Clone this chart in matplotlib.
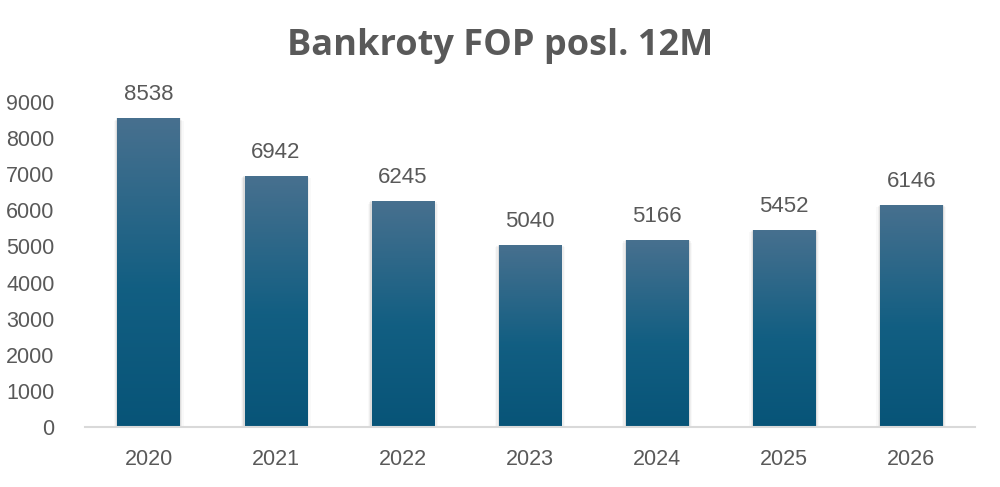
import numpy as np
import matplotlib
matplotlib.use("Agg")
import matplotlib.pyplot as plt
from matplotlib.patches import Rectangle
from matplotlib.colors import LinearSegmentedColormap

years = ["2020", "2021", "2022", "2023", "2024", "2025", "2026"]
values = [8538, 6942, 6245, 5040, 5166, 5452, 6146]
yticks = [0, 1000, 2000, 3000, 4000, 5000, 6000, 7000, 8000, 9000]

grey = "#595959"
top_col = (0.28, 0.44, 0.56)
bot_col = (0.03, 0.33, 0.47)
cmap = LinearSegmentedColormap.from_list("bar", [(0.0, bot_col), (0.45, (0.07, 0.37, 0.51)), (1.0, top_col)])

plt.rcParams['font.family'] = ['Liberation Sans', 'DejaVu Sans']

fig = plt.figure(figsize=(10, 4.87), dpi=100)
ax = fig.add_axes([0.085, 0.123, 0.89, 0.668])

width = 0.49
grad = np.linspace(0, 1, 256).reshape(-1, 1)
for i, v in enumerate(values):
    x0 = i - width / 2
    # soft shadow, mostly on the sides
    for k, a in enumerate([0.07, 0.045, 0.025]):
        pad = 0.01 * (k + 1)
        ax.add_patch(Rectangle((x0 - pad, 0), width + 2 * pad, v - 30 * k,
                               facecolor="black", alpha=a, edgecolor="none", zorder=1))
    rect = Rectangle((x0, 0), width, v, facecolor="none", edgecolor="none", zorder=3)
    ax.add_patch(rect)
    im = ax.imshow(grad, cmap=cmap, origin="lower", aspect="auto",
                   extent=[x0, x0 + width, 0, v], zorder=2)
    im.set_clip_path(rect)
    ax.text(i, v + 360, str(v), ha="center", va="bottom", fontsize=16, color=grey, clip_on=False)

ax.set_xlim(-0.5, len(years) - 0.5)
ax.set_ylim(0, 9000)
ax.set_xticks(range(len(years)))
ax.set_xticklabels(years)
ax.set_yticks(yticks)
ax.tick_params(axis="both", length=0, labelsize=15.5, colors=grey)
ax.tick_params(axis="x", pad=16)
ax.tick_params(axis="y", pad=22)
for s in ["top", "right", "left"]:
    ax.spines[s].set_visible(False)
ax.spines["bottom"].set_color("#d9d9d9")
ax.spines["bottom"].set_linewidth(1.5)
ax.spines["bottom"].set_zorder(4)

fig.text(0.5, 0.905, "Bankroty FOP posl. 12M", ha="center", va="center",
         fontsize=26, fontweight="bold", color=grey, family=["Open Sans", "DejaVu Sans"])

fig.savefig("out.png", dpi=100, facecolor="white")
